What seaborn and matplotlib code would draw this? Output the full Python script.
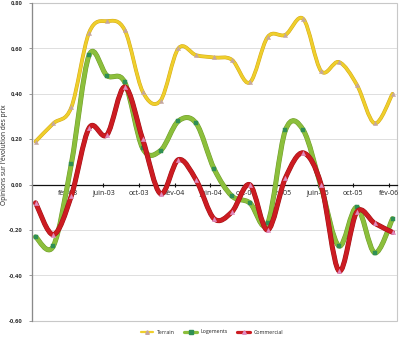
import numpy as np
import pandas as pd
import matplotlib
matplotlib.use("Agg")
import matplotlib.pyplot as plt
import seaborn as sns
from matplotlib.path import Path
from matplotlib.patches import PathPatch, Rectangle
from matplotlib.lines import Line2D
import matplotlib.patheffects as pe

# Bimonthly survey points
periods = ['oct-02', 'déc-02', 'fév-03', 'avr-03', 'juin-03', 'août-03', 'oct-03',
           'déc-03', 'fév-04', 'avr-04', 'juin-04', 'août-04', 'oct-04', 'déc-04',
           'fév-05', 'avr-05', 'juin-05', 'août-05', 'oct-05', 'déc-05', 'fév-06']

terrain = [0.19, 0.27, 0.34, 0.67, 0.72, 0.68, 0.41, 0.37, 0.60, 0.57, 0.56,
           0.55, 0.45, 0.65, 0.66, 0.73, 0.50, 0.54, 0.44, 0.27, 0.40]
logements = [-0.23, -0.27, 0.09, 0.57, 0.48, 0.45, 0.16, 0.15, 0.28, 0.27, 0.07,
             -0.05, -0.08, -0.17, 0.24, 0.24, -0.01, -0.27, -0.10, -0.30, -0.15]
commercial = [-0.08, -0.22, -0.05, 0.25, 0.22, 0.43, 0.20, -0.04, 0.11, 0.02, -0.15,
              -0.12, 0.00, -0.20, 0.03, 0.14, 0.00, -0.38, -0.12, -0.17, -0.21]

tick_labels = ['fév-03', 'juin-03', 'oct-03', 'fév-04', 'juin-04',
               'oct-04', 'fév-05', 'juin-05', 'oct-05', 'fév-06']
y_ticks = [-0.60, -0.40, -0.20, 0.00, 0.20, 0.40, 0.60, 0.80]

series = [
    # name, values, line colour, edge colour, width, marker, marker colour, size
    ('Terrain', terrain, '#efcf2c', '#d4a818', 2.0, '^', '#c4a6a0', 9),
    ('Logements', logements, '#8cbf3c', '#6e9a2a', 2.9, 's', '#2f8f55', 11),
    ('Commercial', commercial, '#cc1c22', '#9e1016', 2.9, '^', '#e08cc0', 10),
]

sns.set_theme(style='white')
plt.rcParams['font.family'] = ['Open Sans', 'DejaVu Sans']

fig = plt.figure(figsize=(4.0, 3.37), dpi=100)
ax = fig.add_axes([32 / 400, 1 - 320.9 / 337, 365 / 400, 317.9 / 337])

x = np.arange(len(periods))


def smooth_path(xs, ys):
    """Cubic Bezier path through the points (Catmull-Rom style tangents)."""
    n = len(xs)
    verts = [(xs[0], ys[0])]
    codes = [Path.MOVETO]
    for i in range(n - 1):
        a = i - 1 if i > 0 else i
        d = i + 2 if i + 2 < n else i + 1
        c1 = (xs[i] + (xs[i + 1] - xs[a]) / 6, ys[i] + (ys[i + 1] - ys[a]) / 6)
        c2 = (xs[i + 1] - (xs[d] - xs[i]) / 6, ys[i + 1] - (ys[d] - ys[i]) / 6)
        verts += [c1, c2, (xs[i + 1], ys[i + 1])]
        codes += [Path.CURVE4] * 3
    return Path(verts, codes)


frames = []
for name, vals, col, edge, lw, mk, mcol, ms in series:
    frames.append(pd.DataFrame({'x': x, 'v': vals, 'serie': name}))
df = pd.concat(frames, ignore_index=True)

handles = []
for z, (name, vals, col, edge, lw, mk, mcol, ms) in enumerate(series):
    patch = PathPatch(smooth_path(x, np.array(vals)), facecolor='none',
                      edgecolor=col, lw=lw, capstyle='round', joinstyle='round',
                      zorder=3 + z * 2)
    patch.set_path_effects([pe.Stroke(linewidth=lw + 0.7, foreground=edge),
                            pe.Normal()])
    ax.add_patch(patch)
    sns.scatterplot(data=df[df['serie'] == name], x='x', y='v', ax=ax,
                    marker=mk, s=ms, color=mcol, edgecolor=mcol, linewidth=0.3,
                    zorder=4 + z * 2, legend=False)
    handles.append(Line2D([], [], color=col, lw=lw * 0.8, marker=mk,
                          markersize=2.6, markerfacecolor=mcol,
                          markeredgecolor=mcol))

ax.set_xlim(-0.2, 20.25)
ax.set_ylim(-0.6, 0.8)
ax.set_xlabel('')
ax.set_ylabel('')

# Horizontal grid
for yv in y_ticks:
    if yv not in (0.0, -0.6, 0.8):
        ax.axhline(yv, color='#dedede', lw=0.7, zorder=1)

# x axis on the zero line
ax.spines['bottom'].set_position(('data', 0))
ax.spines['bottom'].set_color('#111111')
ax.spines['bottom'].set_linewidth(0.9)
ax.spines['bottom'].set_zorder(2)
ax.spines['top'].set_visible(False)
ax.spines['right'].set_visible(False)
ax.spines['left'].set_color('#8a8a8a')
ax.spines['left'].set_linewidth(0.9)
ax.add_patch(Rectangle((0, 0), 1, 1, transform=ax.transAxes, fill=False,
                       edgecolor='#c8c8c8', lw=0.8, zorder=0.5, clip_on=False))

tick_pos = [periods.index(t) - 0.2 for t in tick_labels]
ax.set_xticks(tick_pos)
ax.set_xticklabels(tick_labels, fontsize=5, color='#222222')
ax.tick_params(axis='x', direction='inout', length=3, width=0.8,
               color='#111111', pad=2.5, bottom=True)

ax.set_yticks(y_ticks)
ax.set_yticklabels([f'{v:.2f}'.replace('.', ',') for v in y_ticks],
                   fontsize=4.2, color='#333333', fontweight='bold')
ax.tick_params(axis='y', direction='out', length=2, width=0.6,
               color='#8a8a8a', pad=5, left=True)

fig.text(5 / 400, 1 - 155 / 337, "Opinions sur l'évolution des prix",
         rotation=90, ha='center', va='center', fontsize=4.8, color='#222222')

fig.legend(handles, [s[0] for s in series], loc='center',
           bbox_to_anchor=(212 / 400, 1 - 332 / 337), ncol=3, frameon=False,
           fontsize=3.8, handlelength=2.4, handletextpad=0.7,
           columnspacing=1.8, labelcolor='#222222')

fig.savefig('out.png', dpi=100)
